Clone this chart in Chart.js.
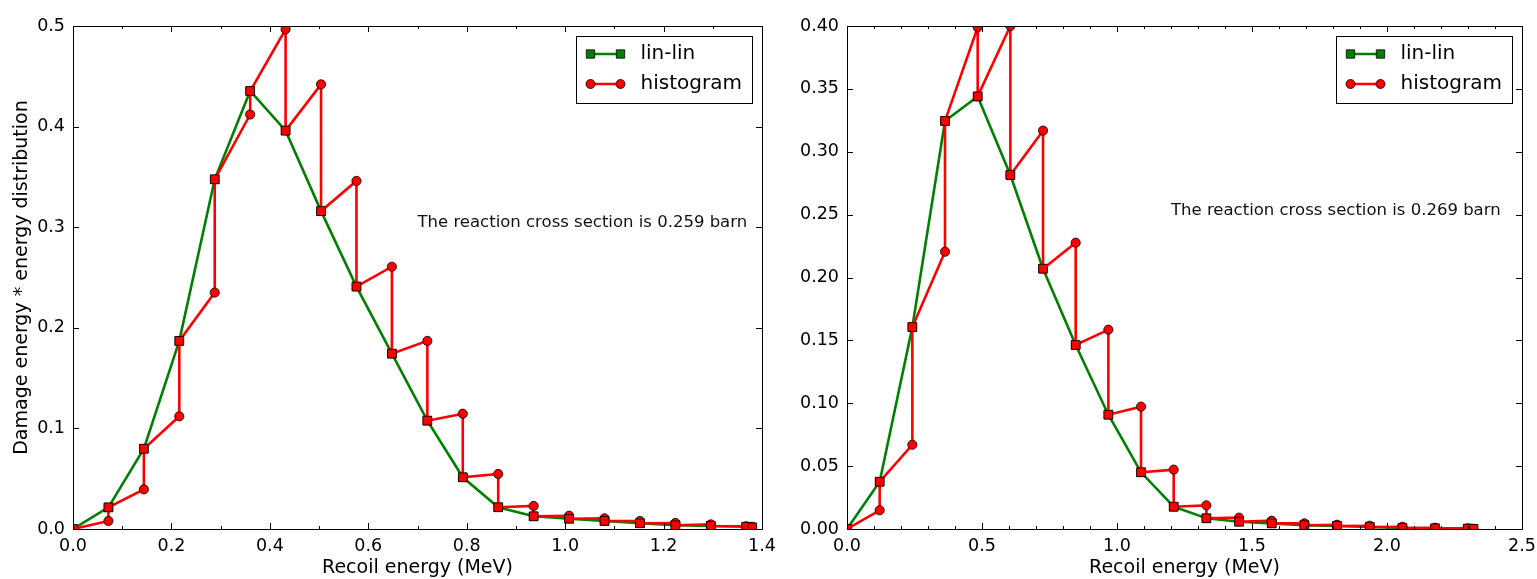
<!DOCTYPE html>
<html>
<head>
<meta charset="utf-8">
<script src="https://cdn.jsdelivr.net/npm/chart.js@4.4.0/dist/chart.umd.min.js"></script>
<style>
  body { margin: 0; background: #fff; }
  #wrap { position: relative; width: 1537px; height: 579px; }
  .panel { position: absolute; top: 0; height: 579px; }
</style>
</head>
<body>
<div id="wrap">
  <div class="panel" style="left:0;width:790px"><canvas id="leftCanvas"></canvas></div>
  <div class="panel" style="left:790px;width:747px"><canvas id="rightCanvas"></canvas></div>
</div>
<script>
// Left panel (0.259 barn)
const leftEnergy = [0, 0.072, 0.144, 0.216, 0.288, 0.36, 0.432, 0.504, 0.576, 0.648, 0.72,
                    0.792, 0.864, 0.936, 1.008, 1.08, 1.152, 1.224, 1.296, 1.368, 1.38];
const leftLinLin = [0, 0.0215, 0.0798, 0.187, 0.3476, 0.4354, 0.396, 0.316, 0.241, 0.1743, 0.1077,
                    0.0514, 0.0216, 0.0126, 0.0102, 0.008, 0.0057, 0.0037, 0.003, 0.0022, 0.0015];
// histogram value reached at each energy (after the first) before dropping to lin-lin
const leftHistogram = [0.008, 0.0394, 0.112, 0.235, 0.412, 0.4967, 0.442, 0.346, 0.2607, 0.187,
                       0.1146, 0.0547, 0.0229, 0.0132, 0.0106, 0.008, 0.006, 0.0046, 0.0027, 0.0022];
const leftXTicks = [0, 0.2, 0.4, 0.6, 0.8, 1.0, 1.2, 1.4];
const leftXMinor = [0.1, 0.3, 0.5, 0.7, 0.9, 1.1, 1.3];
const leftYTicks = [0, 0.1, 0.2, 0.3, 0.4, 0.5];

// Right panel (0.269 barn)
const rightEnergy = [0, 0.121, 0.242, 0.363, 0.484, 0.605, 0.726, 0.847, 0.968, 1.089, 1.21,
                     1.331, 1.452, 1.573, 1.694, 1.815, 1.936, 2.057, 2.178, 2.299, 2.32];
const rightLinLin = [0, 0.0376, 0.1606, 0.3245, 0.344, 0.2815, 0.207, 0.1463, 0.0909, 0.0451, 0.0177,
                     0.0085, 0.0058, 0.0045, 0.003, 0.0024, 0.0016, 0.0008, 0.0005, 0.0003, 0.0001];
const rightHistogram = [0.0149, 0.067, 0.2205, 0.399, 0.400, 0.3168, 0.2277, 0.1585, 0.0973, 0.0472,
                        0.0188, 0.009, 0.0066, 0.0045, 0.0034, 0.0026, 0.0018, 0.001, 0.0005, 0.0002];
const rightXTicks = [0, 0.5, 1.0, 1.5, 2.0, 2.5];
const rightXMinor = [0.1, 0.2, 0.3, 0.4, 0.6, 0.7, 0.8, 0.9, 1.1, 1.2, 1.3, 1.4,
                     1.6, 1.7, 1.8, 1.9, 2.1, 2.2, 2.3, 2.4];
const rightYTicks = [0, 0.05, 0.1, 0.15, 0.2, 0.25, 0.3, 0.35, 0.4];

Chart.defaults.font.family = '"DejaVu Sans", sans-serif';
Chart.defaults.color = '#000';

// build the sawtooth path: lin-lin -> histogram peak -> lin-lin ...
function histogramPoints(energy, linlin, peaks) {
    const pts = [{ x: energy[0], y: linlin[0] }];
    for (let i = 1; i < energy.length; i++) {
        pts.push({ x: energy[i], y: peaks[i - 1] });
        pts.push({ x: energy[i], y: linlin[i] });
    }
    return pts;
}

function drawMarker(ctx, style, x, y, color) {
    ctx.fillStyle = color;
    ctx.strokeStyle = '#000';
    ctx.lineWidth = 0.8;
    ctx.beginPath();
    if (style === 'rect') {
        ctx.rect(x - 4.2, y - 4.2, 8.4, 8.4);
    } else {
        ctx.arc(x, y, 4.5, 0, Math.PI * 2);
    }
    ctx.fill();
    ctx.stroke();
}

// matplotlib-like frame, inward ticks, note text and legend box
const mplFrame = {
    id: 'mplFrame',
    afterDatasetsDraw(chart, args, opts) {
        const { ctx, chartArea: a, scales: { x, y } } = chart;
        ctx.save();
        ctx.strokeStyle = '#000';
        ctx.lineWidth = 1;
        const seg = (x1, y1, x2, y2) => {
            ctx.beginPath(); ctx.moveTo(x1, y1); ctx.lineTo(x2, y2); ctx.stroke();
        };
        opts.xMajor.forEach(v => {
            const p = Math.round(x.getPixelForValue(v)) + 0.5;
            seg(p, a.bottom, p, a.bottom - 6); seg(p, a.top, p, a.top + 6);
        });
        opts.xMinor.forEach(v => {
            const p = Math.round(x.getPixelForValue(v)) + 0.5;
            seg(p, a.bottom, p, a.bottom - 3); seg(p, a.top, p, a.top + 3);
        });
        opts.yMajor.forEach(v => {
            const p = Math.round(y.getPixelForValue(v)) + 0.5;
            seg(a.left, p, a.left + 6, p); seg(a.right, p, a.right - 6, p);
        });
        ctx.strokeRect(Math.round(a.left) + 0.5, Math.round(a.top) + 0.5,
                       Math.round(a.right - a.left), Math.round(a.bottom - a.top));

        // cross section note, anchored in data coordinates
        ctx.font = '16.5px "DejaVu Sans"';
        ctx.fillStyle = '#111';
        ctx.textAlign = 'left';
        ctx.textBaseline = 'alphabetic';
        ctx.fillText(opts.note, x.getPixelForValue(opts.noteX), y.getPixelForValue(opts.noteY));

        // legend
        const bw = 176, bh = 67;
        const bx = Math.round(a.right - 10 - bw) + 0.5, by = Math.round(a.top + 10) + 0.5;
        ctx.fillStyle = '#fff';
        ctx.fillRect(bx, by, bw, bh);
        ctx.strokeStyle = '#000';
        ctx.lineWidth = 1;
        ctx.strokeRect(bx, by, bw, bh);
        const styles = ['rect', 'circle'];
        chart.data.datasets.forEach((ds, i) => {
            const ry = by + 17.5 + i * 30;
            ctx.strokeStyle = ds.borderColor;
            ctx.lineWidth = 2.5;
            seg(bx + 12, ry, bx + 46, ry);
            drawMarker(ctx, styles[i], bx + 14, ry, ds.borderColor);
            drawMarker(ctx, styles[i], bx + 44, ry, ds.borderColor);
            ctx.fillStyle = '#000';
            ctx.font = '20px "DejaVu Sans"';
            ctx.textBaseline = 'middle';
            ctx.fillText(ds.label, bx + 64, ry);
        });
        ctx.restore();
    }
};

function makeChart(id, cfg) {
    const tickFont = { size: 17.5 };
    return new Chart(document.getElementById(id), {
        type: 'scatter',
        data: {
            datasets: [{
                label: 'lin-lin',
                data: cfg.energy.map((e, i) => ({ x: e, y: cfg.linlin[i] })),
                showLine: true,
                borderColor: '#008000',
                borderWidth: 2.6,
                pointStyle: 'rect',
                pointRadius: 6,
                pointBackgroundColor: '#008000',
                pointBorderColor: '#000',
                pointBorderWidth: 0.8,
                order: 1,
                clip: 0
            }, {
                label: 'histogram',
                data: histogramPoints(cfg.energy, cfg.linlin, cfg.hist),
                showLine: true,
                borderColor: '#ff0000',
                borderWidth: 2.6,
                pointStyle: c => (c.dataIndex % 2 === 1 ? 'circle' : 'rect'),
                pointRadius: c => (c.dataIndex % 2 === 1 ? 4.6 : 6.2),
                pointBackgroundColor: '#ff0000',
                pointBorderColor: '#000',
                pointBorderWidth: 0.8,
                order: 0,
                clip: 0
            }]
        },
        options: {
            responsive: true,
            maintainAspectRatio: false,
            animation: false,
            layout: { padding: { left: 0, right: cfg.padRight, top: 26, bottom: 0 } },
            plugins: {
                legend: { display: false },
                tooltip: { enabled: false },
                mplFrame: {
                    xMajor: cfg.xTicks, xMinor: cfg.xMinor, yMajor: cfg.yTicks,
                    note: cfg.note, noteX: cfg.noteX, noteY: cfg.noteY
                }
            },
            scales: {
                x: {
                    type: 'linear',
                    min: 0,
                    max: cfg.xTicks[cfg.xTicks.length - 1],
                    grid: { display: false, drawTicks: false },
                    border: { display: false },
                    afterBuildTicks: s => { s.ticks = cfg.xTicks.map(v => ({ value: v })); },
                    afterFit: s => { s.height = 50; s.paddingLeft = 0; s.paddingRight = 0; },
                    ticks: {
                        font: tickFont, color: '#000', padding: 7, maxRotation: 0, autoSkip: false,
                        callback: v => v.toFixed(1)
                    },
                    title: {
                        display: true, text: 'Recoil energy (MeV)', color: '#000',
                        font: { size: 19 }, padding: { top: 0, bottom: 0 }
                    }
                },
                y: {
                    type: 'linear',
                    min: 0,
                    max: cfg.yTicks[cfg.yTicks.length - 1],
                    grid: { display: false, drawTicks: false },
                    border: { display: false },
                    afterBuildTicks: s => { s.ticks = cfg.yTicks.map(v => ({ value: v })); },
                    afterFit: s => { s.width = cfg.yWidth; s.paddingTop = 0; s.paddingBottom = 0; },
                    ticks: {
                        font: tickFont, color: '#000', padding: 8, autoSkip: false,
                        callback: v => v.toFixed(cfg.yDecimals)
                    },
                    title: {
                        display: cfg.yTitle !== '', text: cfg.yTitle, color: '#000',
                        font: { size: 19 }, padding: { top: 11, bottom: 0 }
                    }
                }
            }
        },
        plugins: [mplFrame]
    });
}

makeChart('leftCanvas', {
    energy: leftEnergy, linlin: leftLinLin, hist: leftHistogram,
    xTicks: leftXTicks, xMinor: leftXMinor, yTicks: leftYTicks, yDecimals: 1,
    yWidth: 73, padRight: 28,
    yTitle: 'Damage energy * energy distribution',
    note: 'The reaction cross section is 0.259 barn', noteX: 0.7, noteY: 0.3
});

makeChart('rightCanvas', {
    energy: rightEnergy, linlin: rightLinLin, hist: rightHistogram,
    xTicks: rightXTicks, xMinor: rightXMinor, yTicks: rightYTicks, yDecimals: 2,
    yWidth: 57, padRight: 15,
    yTitle: '',
    note: 'The reaction cross section is 0.269 barn', noteX: 1.2, noteY: 0.25
});
</script>
</body>
</html>
